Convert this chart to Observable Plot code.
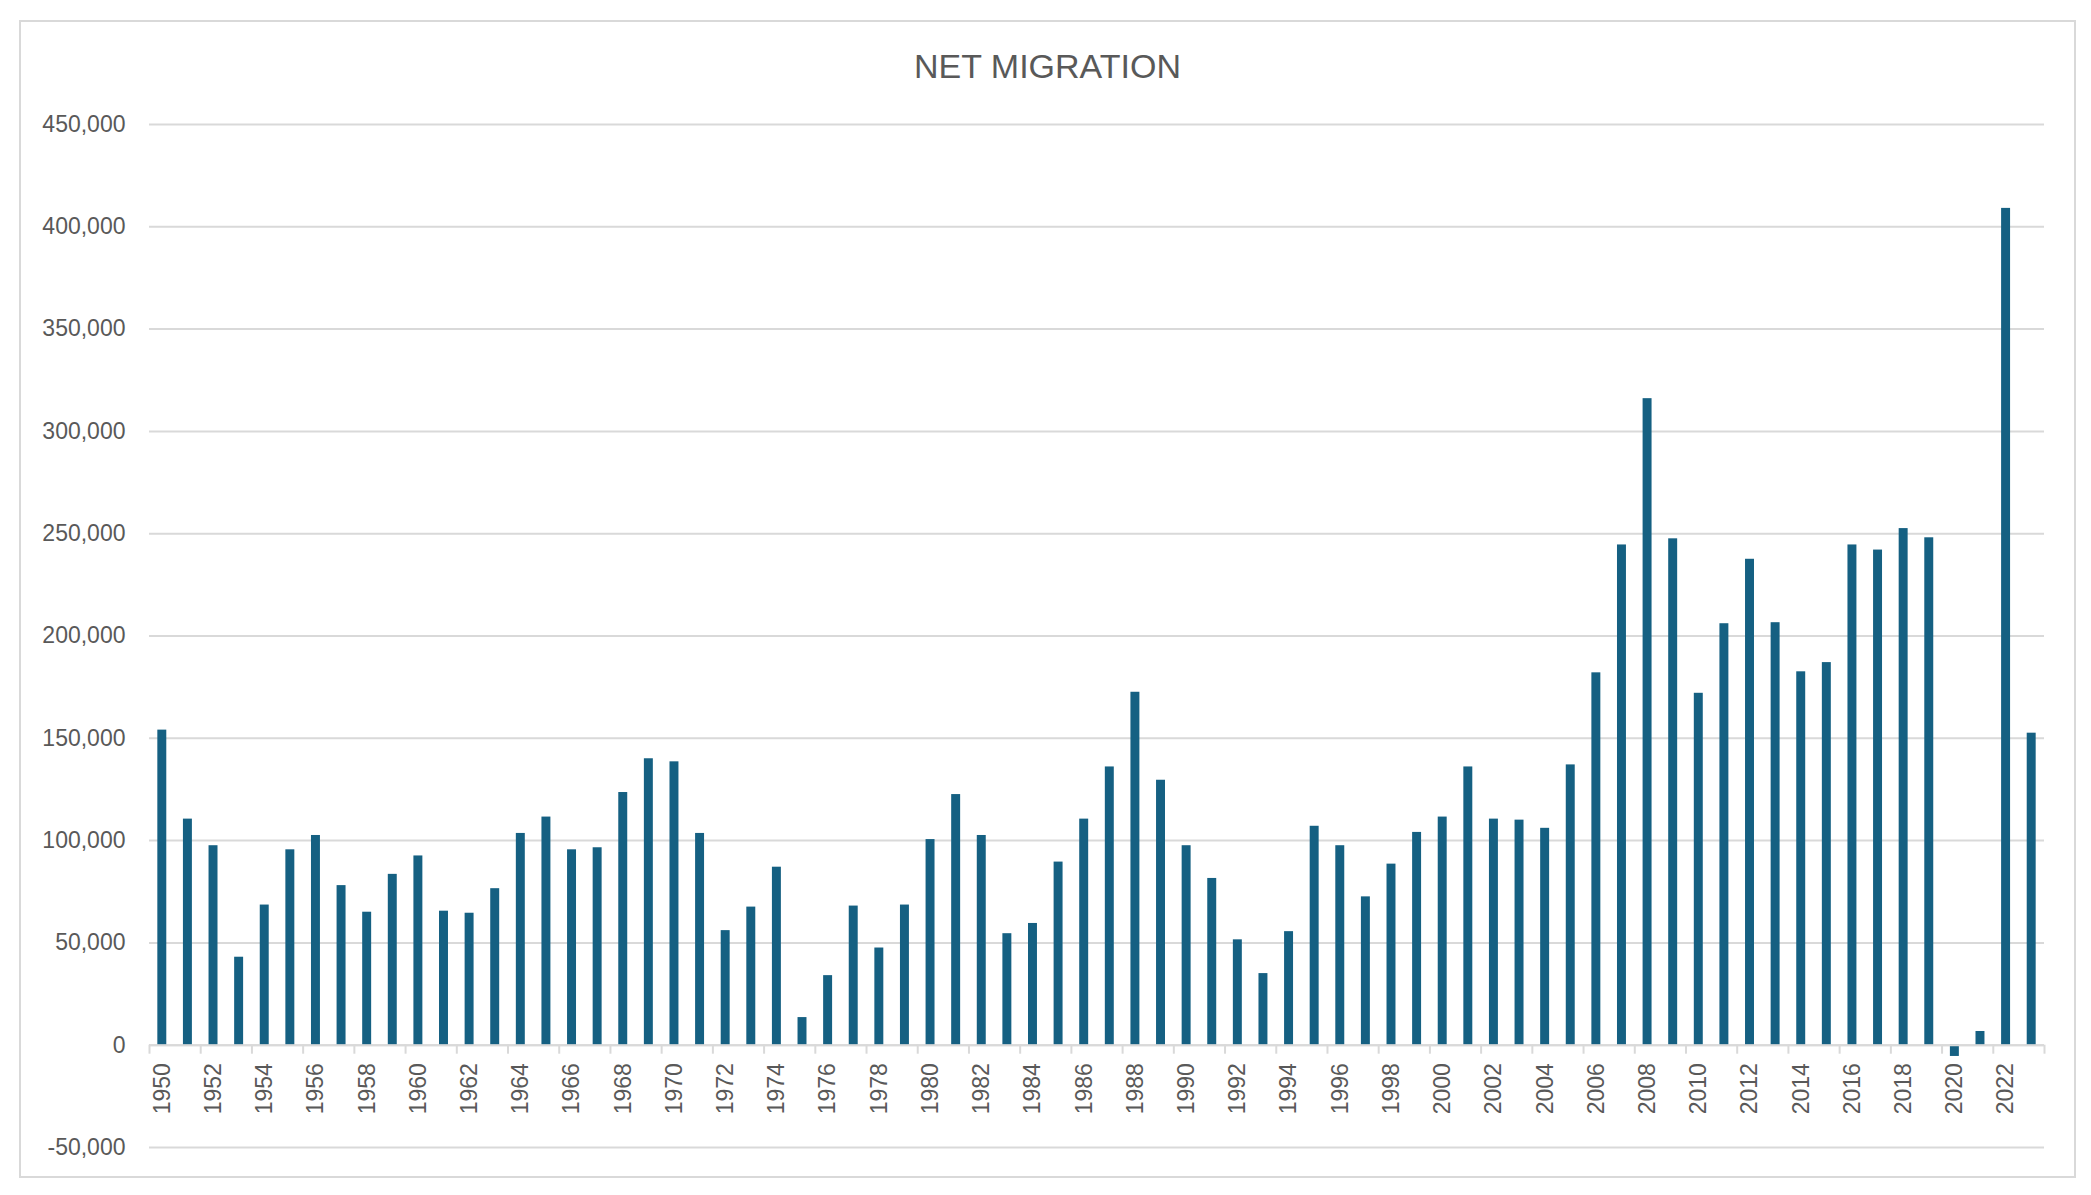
<!DOCTYPE html>
<html>
<head>
<meta charset="utf-8">
<script src="https://cdn.jsdelivr.net/npm/d3@7"></script>
<script src="https://cdn.jsdelivr.net/npm/@observablehq/plot@0.6"></script>
<style>
  html, body { margin: 0; padding: 0; background: #fff; }
  #page { position: relative; width: 2091px; height: 1195px; background: #fff; overflow: hidden; font-family: "Liberation Sans", Arial, sans-serif; }
  #frame { position: absolute; left: 19px; top: 20px; width: 2053px; height: 1154px; border: 2px solid #d9d9d9; box-sizing: content-box; }
  #title { position: absolute; left: 19px; width: 2057px; top: 46px; line-height: 40px; text-align: center; font-size: 34px; color: #595959; }
  #chart { position: absolute; left: 0; top: 95px; }
</style>
</head>
<body>
<div id="page">
  <div id="frame"></div>
  <div id="title">NET MIGRATION</div>
  <div id="chart"></div>
</div>
<script>
const years = [1950,1951,1952,1953,1954,1955,1956,1957,1958,1959,
  1960,1961,1962,1963,1964,1965,1966,1967,1968,1969,
  1970,1971,1972,1973,1974,1975,1976,1977,1978,1979,
  1980,1981,1982,1983,1984,1985,1986,1987,1988,1989,
  1990,1991,1992,1993,1994,1995,1996,1997,1998,1999,
  2000,2001,2002,2003,2004,2005,2006,2007,2008,2009,
  2010,2011,2012,2013,2014,2015,2016,2017,2018,2019,
  2020,2021,2022,2023];
const netMigration = [154000,110500,97500,43000,68500,95500,102500,78000,65000,83500,
  92500,65500,64500,76500,103500,111500,95500,96500,123500,140000,
  138500,103500,56000,67500,87000,13500,34000,68000,47500,68500,
  100500,122500,102500,54500,59500,89500,110500,136000,172500,129500,
  97500,81500,51500,35000,55500,107000,97500,72500,88500,104000,
  111500,136000,110500,110000,106000,137000,182000,244500,316000,247500,
  172000,206000,237500,206500,182500,187000,244500,242000,252500,248000,
  -5500,6700,409000,152500];
const labelYears = [1950,1952,1954,1956,1958,1960,1962,1964,1966,1968,1970,1972,1974,1976,1978,
  1980,1982,1984,1986,1988,1990,1992,1994,1996,1998,2000,2002,2004,2006,2008,2010,2012,2014,
  2016,2018,2020,2022];
const yTicks = [-50000,0,50000,100000,150000,200000,250000,300000,350000,400000,450000];

const data = years.map((y, i) => ({year: y, value: netMigration[i]}));
const fmt = d => d3.format(",")(d).replace("\u2212", "-");

const W = 2091, H = 1081, mL = 149, mR = 47;
const step = (W - mL - mR) / years.length;

const plot = Plot.plot({
  width: W,
  height: H,
  marginLeft: mL,
  marginRight: mR,
  marginTop: 29,
  marginBottom: 29,
  style: {fontFamily: '"Liberation Sans", Arial, sans-serif', fontSize: "23px", color: "#595959", background: "transparent"},
  x: {type: "band", domain: years, paddingInner: 0.65, paddingOuter: 0.325, axis: null},
  y: {domain: [-50000, 450000], axis: null},
  marks: [
    Plot.gridY(yTicks, {stroke: "#d9d9d9", strokeOpacity: 1, strokeWidth: 2}),
    Plot.axisY(yTicks, {tickFormat: fmt, tickSize: 0, tickPadding: 24, label: null, fontSize: 23, fill: "#595959"}),
    Plot.barY(data, {x: "year", y: "value", fill: "#156082"}),
    Plot.ruleY([0], {stroke: "#d9d9d9", strokeWidth: 2}),
    Plot.ruleX(labelYears, {x: d => d, y1: 0, y2: 0, insetBottom: -9, dx: -step / 2, stroke: "#d9d9d9", strokeWidth: 2}),
    Plot.ruleX([years[years.length - 1]], {x: d => d, y1: 0, y2: 0, insetBottom: -9, dx: step / 2, stroke: "#d9d9d9", strokeWidth: 2}),
    Plot.text(labelYears, {x: d => d, y: 0, text: d => String(d), rotate: -90, textAnchor: "end", dy: 18, fontSize: 23, fill: "#595959"})
  ]
});
document.getElementById("chart").appendChild(plot);
</script>
</body>
</html>
